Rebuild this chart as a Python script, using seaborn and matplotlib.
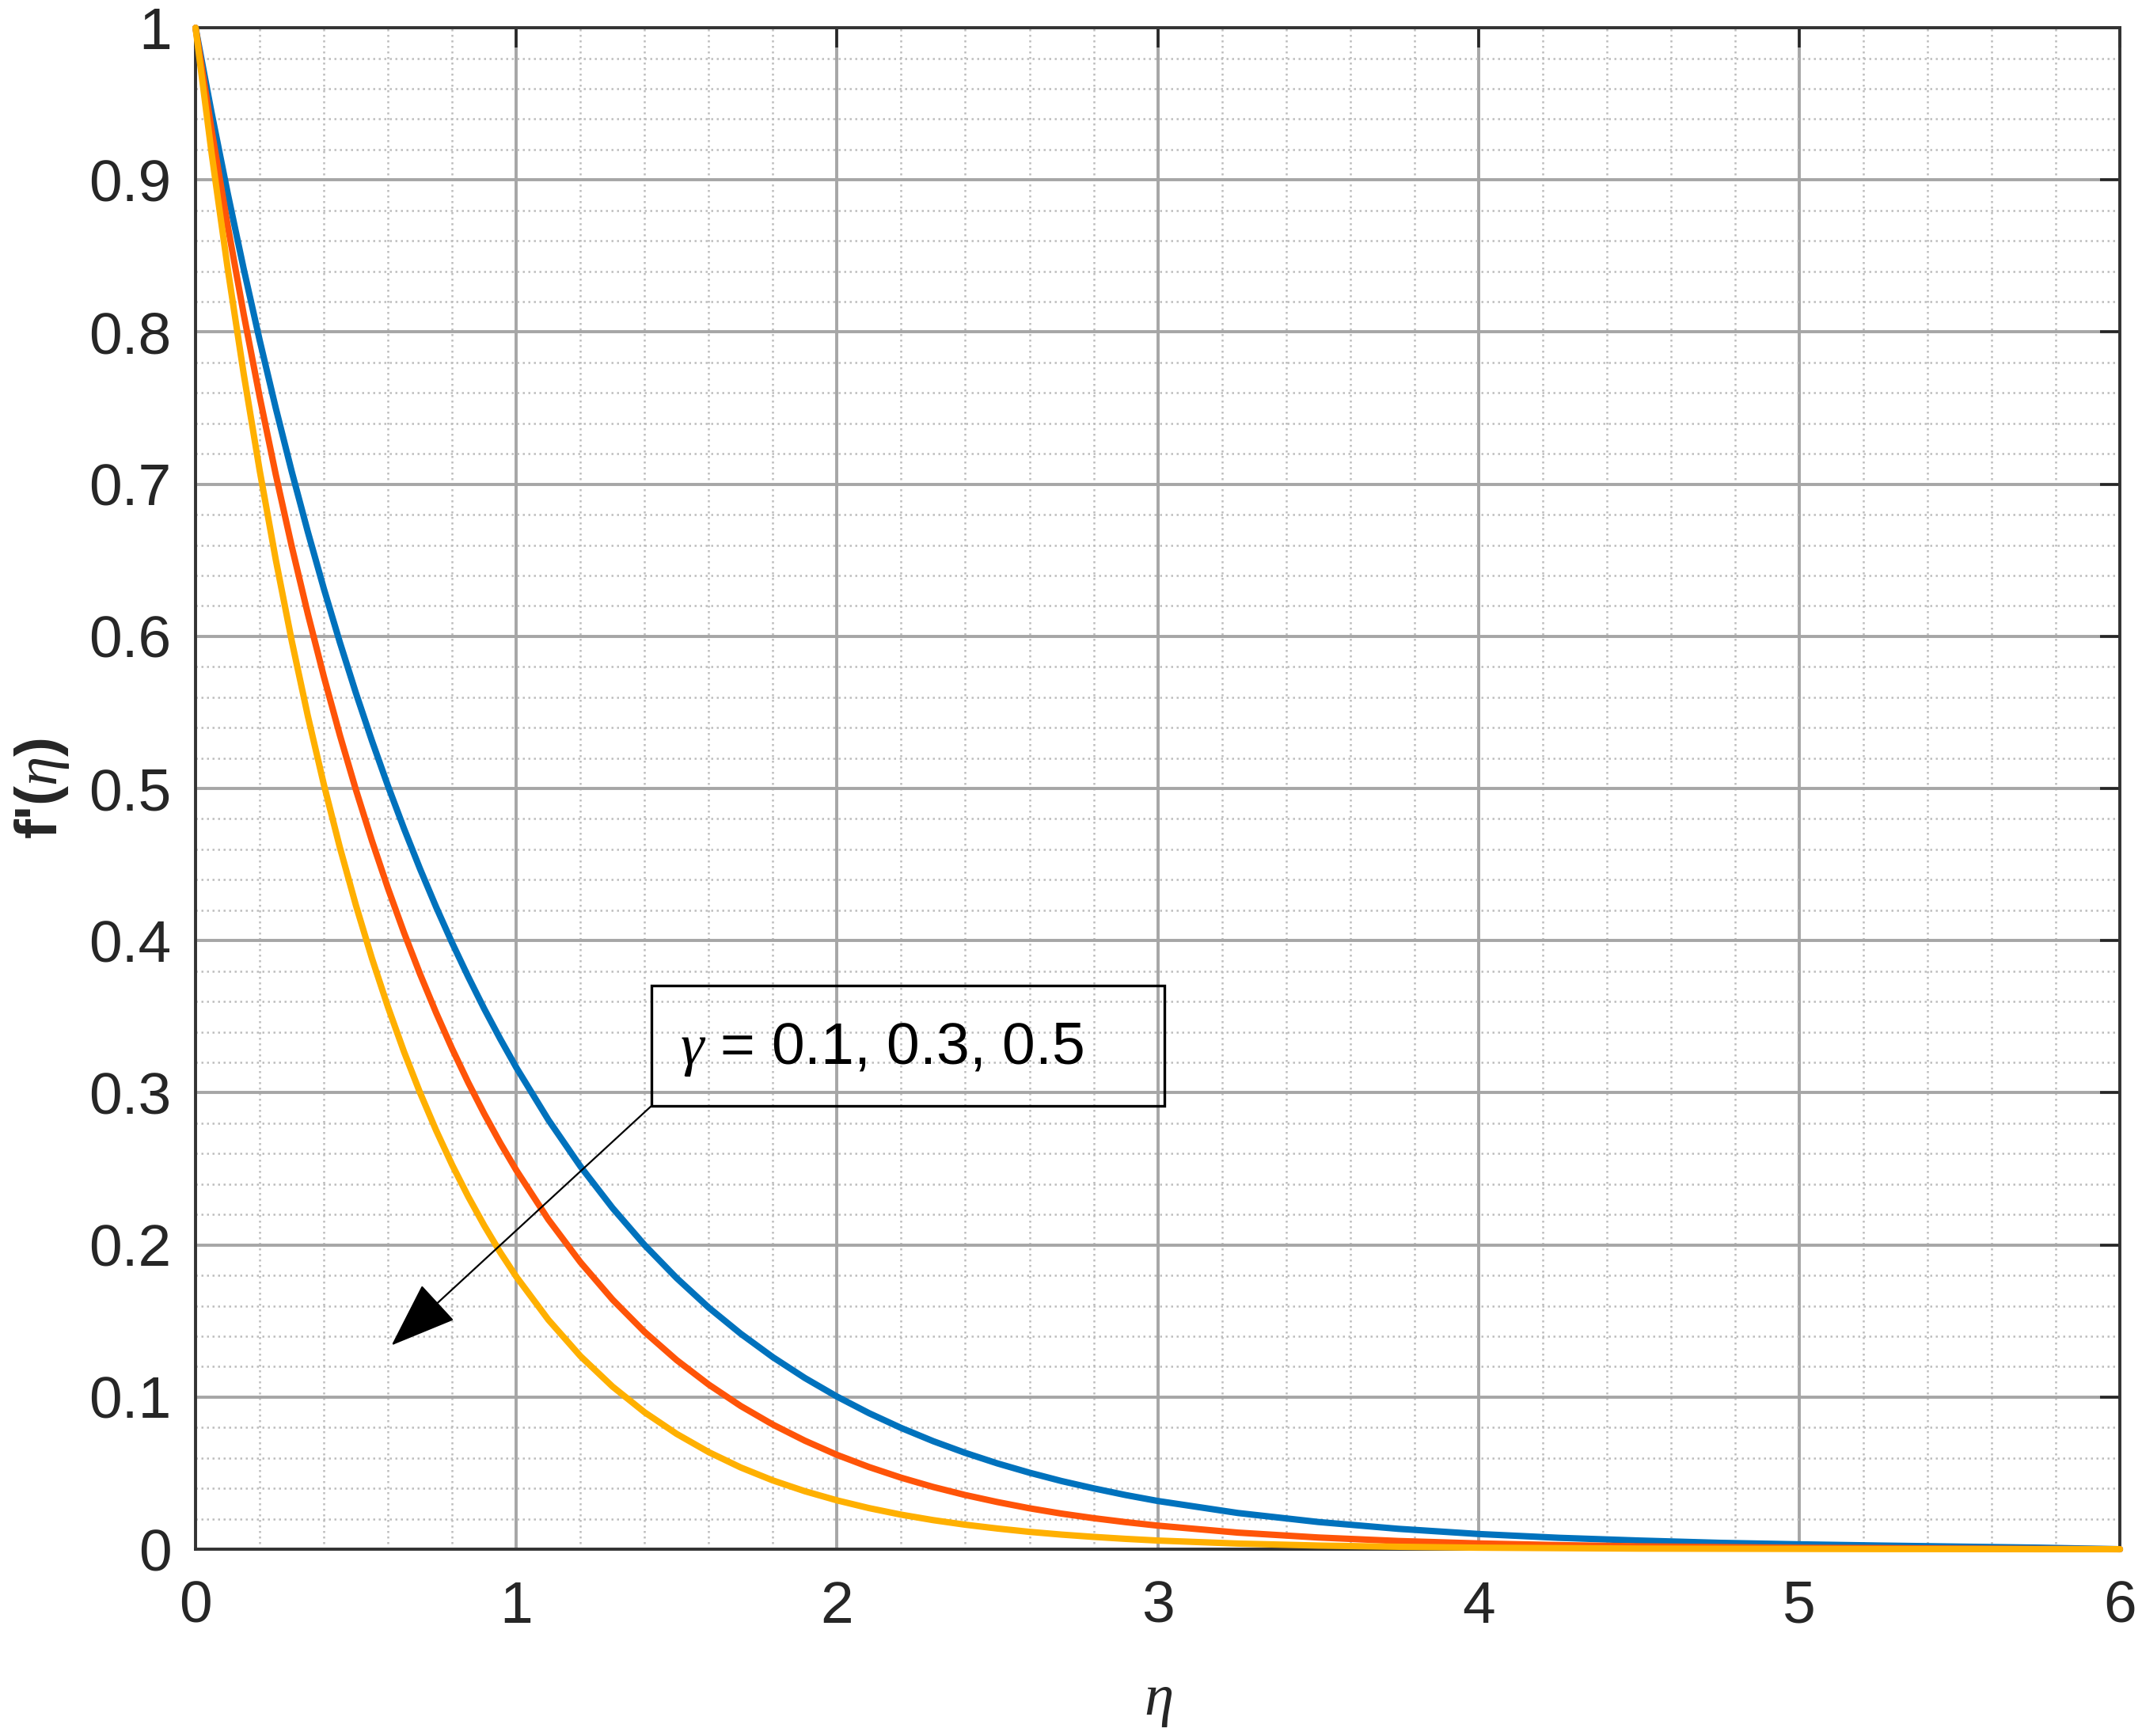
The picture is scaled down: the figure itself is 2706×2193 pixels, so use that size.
import matplotlib
matplotlib.use("Agg")
import matplotlib.pyplot as plt
from matplotlib.ticker import MultipleLocator, FixedLocator, FixedFormatter
from matplotlib.patches import Rectangle
import seaborn as sns
import pandas as pd

# ---------------- data ----------------
eta = [0.0, 0.05, 0.1, 0.15, 0.2, 0.25, 0.3, 0.35, 0.4, 0.45, 0.5, 0.55, 0.6, 0.65,
       0.7, 0.75, 0.8, 0.85, 0.9, 0.95, 1.0, 1.1, 1.2, 1.3, 1.4, 1.5, 1.6, 1.7, 1.8,
       1.9, 2.0, 2.1, 2.2, 2.3, 2.4, 2.5, 2.6, 2.7, 2.8, 2.9, 3.0, 3.25, 3.5, 3.75,
       4.0, 4.25, 4.5, 4.75, 5.0, 5.25, 5.5, 5.75, 6.0]

fp_gamma_01 = [1.000, 0.9441, 0.8914, 0.8416, 0.7945, 0.7501, 0.7082, 0.6687, 0.6313,
               0.5960, 0.5627, 0.5313, 0.5016, 0.4736, 0.4471, 0.4221, 0.3985, 0.3763,
               0.3552, 0.3354, 0.3166, 0.2822, 0.2516, 0.2243, 0.1999, 0.1782, 0.1588,
               0.1416, 0.1262, 0.1125, 0.1003, 0.0894, 0.0797, 0.0710, 0.0633, 0.0564,
               0.0503, 0.0448, 0.0400, 0.0356, 0.0317, 0.0238, 0.0179, 0.0134, 0.0100,
               0.0075, 0.0057, 0.0042, 0.0032, 0.0024, 0.0017, 0.0010, 0.0000]

fp_gamma_03 = [1.000, 0.9329, 0.8702, 0.8118, 0.7573, 0.7064, 0.6590, 0.6148, 0.5735,
               0.5350, 0.4991, 0.4656, 0.4343, 0.4052, 0.3780, 0.3526, 0.3289, 0.3068,
               0.2862, 0.2670, 0.2491, 0.2167, 0.1886, 0.1641, 0.1428, 0.1243, 0.1082,
               0.0941, 0.0819, 0.0713, 0.0620, 0.0540, 0.0470, 0.0409, 0.0356, 0.0310,
               0.0269, 0.0234, 0.0204, 0.0178, 0.0155, 0.0109, 0.0077, 0.0054, 0.0038,
               0.0027, 0.0019, 0.0014, 0.0009, 0.0007, 0.0004, 0.0002, 0.0000]

fp_gamma_05 = [1.000, 0.9176, 0.8420, 0.7726, 0.7089, 0.6505, 0.5969, 0.5477, 0.5026,
               0.4612, 0.4232, 0.3883, 0.3563, 0.3269, 0.3000, 0.2753, 0.2526, 0.2318,
               0.2127, 0.1951, 0.1791, 0.1508, 0.1269, 0.1069, 0.0900, 0.0758, 0.0638,
               0.0537, 0.0452, 0.0381, 0.0321, 0.0270, 0.0227, 0.0191, 0.0161, 0.0136,
               0.0114, 0.0096, 0.0081, 0.0068, 0.0057, 0.0037, 0.0024, 0.0016, 0.0010,
               0.0007, 0.0004, 0.0003, 0.0002, 0.0001, 0.0001, 0.0000, 0.0000]

gamma_labels = ["0.1", "0.3", "0.5"]
line_colors = ["#0072BD", "#FF5408", "#FFB000"]

x_ticks = [0, 1, 2, 3, 4, 5, 6]
x_ticklabels = ["0", "1", "2", "3", "4", "5", "6"]
y_ticks = [0.0, 0.1, 0.2, 0.3, 0.4, 0.5, 0.6, 0.7, 0.8, 0.9, 1.0]
y_ticklabels = ["0", "0.1", "0.2", "0.3", "0.4", "0.5", "0.6", "0.7", "0.8", "0.9", "1"]

annotation_text = r"$\gamma$ = 0.1, 0.3, 0.5"

# ---------------- style ----------------
sns.set_theme(style="white")
plt.rcParams["font.family"] = ["Liberation Sans", "DejaVu Sans"]
plt.rcParams["mathtext.fontset"] = "custom"
plt.rcParams["mathtext.rm"] = "Liberation Sans"
plt.rcParams["mathtext.it"] = "Liberation Serif:italic"
plt.rcParams["mathtext.bf"] = "Liberation Sans:bold"

df = pd.DataFrame({
    "eta": eta * 3,
    "fp": fp_gamma_01 + fp_gamma_03 + fp_gamma_05,
    "gamma": [gamma_labels[0]] * len(eta) + [gamma_labels[1]] * len(eta) + [gamma_labels[2]] * len(eta),
})

fig = plt.figure(figsize=(13.53, 10.965), dpi=200)
ax = fig.add_axes([0.0913, 0.1076, 0.8984, 0.8764])

sns.lineplot(data=df, x="eta", y="fp", hue="gamma", hue_order=gamma_labels,
             palette=line_colors, estimator=None, sort=False, linewidth=2.9,
             legend=False, ax=ax, zorder=5)
for ln in ax.get_lines():
    ln.set_clip_on(False)
    ln.set_solid_joinstyle("round")

ax.set_xlim(0, 6)
ax.set_ylim(0, 1)
ax.xaxis.set_major_locator(FixedLocator(x_ticks))
ax.xaxis.set_major_formatter(FixedFormatter(x_ticklabels))
ax.yaxis.set_major_locator(FixedLocator(y_ticks))
ax.yaxis.set_major_formatter(FixedFormatter(y_ticklabels))
ax.xaxis.set_minor_locator(MultipleLocator(0.2))
ax.yaxis.set_minor_locator(MultipleLocator(0.02))

ax.grid(which="major", color="#a6a6a6", linewidth=1.4, linestyle="-", zorder=0)
ax.grid(which="minor", color="#bdbdbd", linewidth=0.9, linestyle=(0, (1, 1.8)), zorder=0)
ax.set_axisbelow(True)

ax.tick_params(which="major", direction="in", length=9, width=1.3, color="#262626",
               top=True, right=True, labelsize=27, labelcolor="#262626")
ax.tick_params(axis="x", which="major", pad=14)
ax.tick_params(axis="y", which="major", pad=11)
ax.tick_params(which="minor", length=0)

for sp in ax.spines.values():
    sp.set_visible(True)
    sp.set_color("#333333")
    sp.set_linewidth(1.4)

ax.set_xlabel(r"$\eta$", fontsize=27, labelpad=18, color="#262626")
ax.set_ylabel(r"f'($\eta$)", fontsize=27, fontweight="bold", labelpad=8, color="#262626")

# text box (no fill) with arrow
ax.add_patch(Rectangle((1.4215, 0.2914), 1.5995, 0.0791, fill=False,
                       edgecolor="black", linewidth=1.2, zorder=6))
ax.text(1.51, 0.319, annotation_text, fontsize=27, color="black",
        ha="left", va="baseline", zorder=7)
ax.annotate("", xy=(0.611, 0.134), xytext=(1.4215, 0.2914),
            arrowprops=dict(arrowstyle="-|>,head_length=1.35,head_width=0.5",
                            mutation_scale=20, color="black", lw=0.8,
                            shrinkA=0, shrinkB=0),
            zorder=7)

fig.savefig("out.png", dpi=200)
